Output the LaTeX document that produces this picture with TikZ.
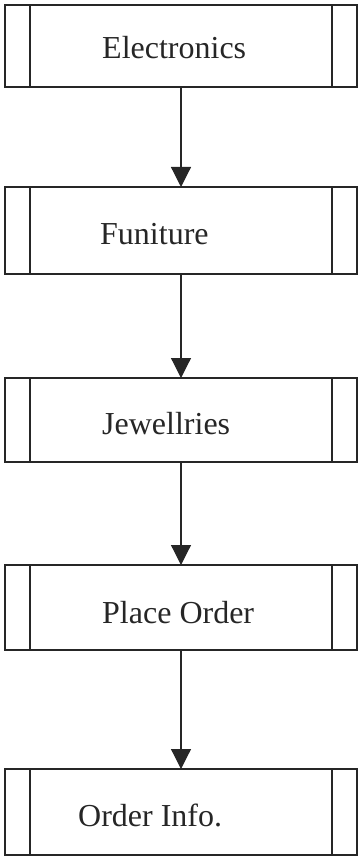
\documentclass[tikz,border=0pt]{standalone}
\usepackage{fontspec}
\setmainfont{Liberation Serif}
\usetikzlibrary{arrows.meta}
\begin{document}
\begin{tikzpicture}[x=1pt,y=1pt,
  procbox/.style={draw=black!85, line width=1.2pt, minimum width=352pt, inner sep=0pt, outer sep=0pt},
  lbl/.style={anchor=base west, inner sep=0pt, text=black!85, font=\fontsize{32}{38}\selectfont},
  flow/.style={draw=black!85, line width=1.2pt, -{Triangle[length=20pt,width=20pt]}}]
  \useasboundingbox (0,0) rectangle (359,-858);
  % predefined-process boxes: outer frame plus two inner side bars
  \foreach \n/\top/\bot in {b1/5/87, b2/187/274, b3/378/462, b4/565/650, b5/769/855}{
    \node[procbox, minimum height=\bot-\top, anchor=north west] (\n) at (5,-\top) {};
    \draw[black!85, line width=1.2pt] ([xshift=25pt]\n.north west) -- ([xshift=25pt]\n.south west);
    \draw[black!85, line width=1.2pt] ([xshift=-25pt]\n.north east) -- ([xshift=-25pt]\n.south east);
  }
  % labels
  \node[lbl] (t1) at (102,-59)  {Electronics};
  \node[lbl] (t2) at (100,-245) {Funiture};
  \node[lbl] (t3) at (102,-434) {Jewellries};
  \node[lbl] (t4) at (102,-623) {Place Order};
  \node[lbl] (t5) at (78,-826)  {Order Info.};
  % connectors
  \draw[flow] (b1.south) -- (b2.north);
  \draw[flow] (b2.south) -- (b3.north);
  \draw[flow] (b3.south) -- (b4.north);
  \draw[flow] (b4.south) -- (b5.north);
\end{tikzpicture}
\end{document}
